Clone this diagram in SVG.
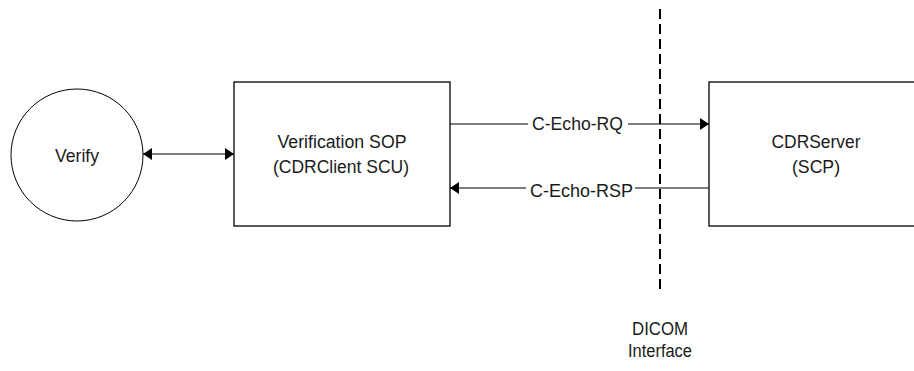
<svg xmlns="http://www.w3.org/2000/svg" width="914" height="371" viewBox="0 0 914 371">
  <style>
    .lbl { font-family: "Liberation Sans", Arial, sans-serif; font-size: 18px; fill: #1a1a1a; text-anchor: middle; }
    .box { fill: #ffffff; stroke: #000000; stroke-width: 1.3; }
    .conn { fill: none; stroke: #000000; stroke-width: 1.2; }
    .iface { fill: none; stroke: #000000; stroke-width: 2; stroke-dasharray: 10 5; }
  </style>
  <defs>
    <marker id="arrowEnd" markerUnits="userSpaceOnUse" markerWidth="10" markerHeight="12" refX="9" refY="6" orient="auto">
      <path d="M0,0 L9,6 L0,12 z" fill="#000000"/>
    </marker>
    <marker id="arrowStart" markerUnits="userSpaceOnUse" markerWidth="10" markerHeight="12" refX="1" refY="6" orient="auto">
      <path d="M10,0 L1,6 L10,12 z" fill="#000000"/>
    </marker>
  </defs>
  <rect x="0" y="0" width="914" height="371" fill="#ffffff"/>

  <!-- DICOM interface boundary -->
  <g id="dicom-interface">
    <line class="iface" x1="660" y1="9" x2="660" y2="294"/>
    <text class="lbl" x="660" y="335" textLength="56" lengthAdjust="spacingAndGlyphs">DICOM</text>
    <text class="lbl" x="660" y="357" textLength="64" lengthAdjust="spacingAndGlyphs">Interface</text>
  </g>

  <g id="verify">
    <circle cx="77" cy="155" r="66" fill="#ffffff" stroke="#000000" stroke-width="1"/>
    <text class="lbl" x="77" y="161.5" textLength="44" lengthAdjust="spacingAndGlyphs">Verify</text>
  </g>

  <g id="verification-sop">
    <rect class="box" x="234" y="82" width="216" height="144"/>
    <text class="lbl" x="342" y="148" textLength="129" lengthAdjust="spacingAndGlyphs">Verification SOP</text>
    <text class="lbl" x="341" y="173" textLength="136" lengthAdjust="spacingAndGlyphs">(CDRClient SCU)</text>
  </g>

  <g id="cdr-server">
    <rect class="box" x="709" y="82" width="220" height="144"/>
    <text class="lbl" x="816" y="148" textLength="89" lengthAdjust="spacingAndGlyphs">CDRServer</text>
    <text class="lbl" x="816" y="173" textLength="48" lengthAdjust="spacingAndGlyphs">(SCP)</text>
  </g>

  <g id="connectors">
    <!-- Verify <-> Verification SOP -->
    <line class="conn" x1="143" y1="154" x2="234" y2="154" marker-start="url(#arrowStart)" marker-end="url(#arrowEnd)"/>
    <!-- C-Echo-RQ -->
    <line class="conn" x1="450" y1="124" x2="528" y2="124"/>
    <line class="conn" x1="628" y1="124" x2="709" y2="124" marker-end="url(#arrowEnd)"/>
    <text class="lbl" x="577.5" y="130" textLength="91" lengthAdjust="spacingAndGlyphs">C-Echo-RQ</text>
    <!-- C-Echo-RSP -->
    <line class="conn" x1="709" y1="188" x2="635" y2="188" stroke="#555555"/>
    <line class="conn" x1="526" y1="188" x2="450" y2="188" marker-end="url(#arrowEnd)"/>
    <text class="lbl" x="581.5" y="196.5" textLength="103" lengthAdjust="spacingAndGlyphs">C-Echo-RSP</text>
  </g>
</svg>
